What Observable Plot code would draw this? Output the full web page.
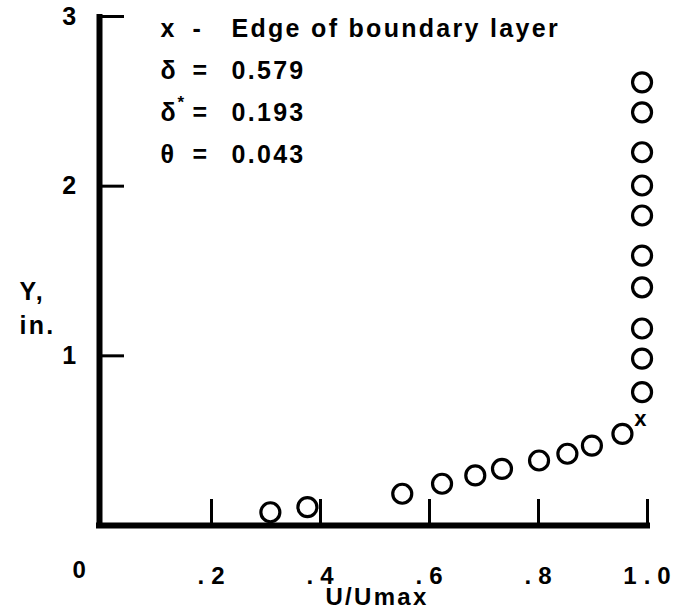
<!DOCTYPE html>
<html><head><meta charset="utf-8">
<script src="https://cdn.jsdelivr.net/npm/d3@7"></script>
<script src="https://cdn.jsdelivr.net/npm/@observablehq/plot@0.6"></script>
<style>
html,body{margin:0;padding:0;background:#fff;}
#chart svg{font-family:"Liberation Sans",Arial,Helvetica,sans-serif;font-weight:bold;background:#fff;}
#chart svg text{letter-spacing:2.3px;}
#chart svg g[aria-label="x-axis tick label"] text{letter-spacing:7px;}
</style></head><body><div id="chart"></div>
<script>
// Velocity profile U/Umax vs Y (in.)
const profileU = [0.308, 0.376, 0.550, 0.623, 0.684, 0.733, 0.801, 0.853, 0.898, 0.954,
                  0.990, 0.990, 0.990, 0.990, 0.990, 0.990, 0.990, 0.990, 0.990, 0.990];
const profileY = [0.078, 0.108, 0.187, 0.246, 0.295, 0.334, 0.383, 0.423, 0.471, 0.540,
                  0.786, 0.984, 1.161, 1.404, 1.591, 1.827, 2.004, 2.200, 2.435, 2.612];
// Edge of boundary layer marker
const edgeU = [0.987];
const edgeY = [0.629];
// Axis ticks
const xTicks = [0.2, 0.4, 0.6, 0.8, 1.0];
const xTickLabels = [".2", ".4", ".6", ".8", "1.0"];
const yTicks = [1, 2, 3];
const yTickLabels = ["1", "2", "3"];
// Legend block
const legendSymbols = ["x", "δ", "δ", "θ"];
const legendOps = ["-", "=", "=", "="];
const legendValues = ["Edge of boundary layer", "0.579", "0.193", "0.043"];

const points = profileU.map((u, i) => ({u, y: profileY[i]}));
const edge = edgeU.map((u, i) => ({u, y: edgeY[i]}));

const W = 683, H = 612, mL = 102, mR = 36, mT = 16, mB = 87;
const fw = W - mL - mR, fh = H - mT - mB;
const FS = 25;

const chart = Plot.plot({
  width: W, height: H,
  marginLeft: mL, marginRight: mR, marginTop: mT, marginBottom: mB,
  x: {domain: [0, 1]},
  y: {domain: [0, 3]},
  style: {fontSize: FS + "px", color: "#000"},
  marks: [
    // axis lines
    Plot.ruleY([0], {stroke: "#000", strokeWidth: 6, insetLeft: -6, insetRight: -3}),
    Plot.ruleX([0], {stroke: "#000", strokeWidth: 6, dx: -3, insetTop: -2, insetBottom: -3}),
    // inward ticks
    Plot.tickX(xTicks, {x: d => d, stroke: "#000", strokeWidth: 3, insetTop: fh - 26}),
    Plot.tickY(yTicks, {y: d => d, stroke: "#000", strokeWidth: 3, insetRight: fw - 22}),
    // tick labels
    Plot.axisX({ticks: xTicks, tickFormat: (d) => xTickLabels[xTicks.indexOf(d)], tickSize: 0, tickPadding: 41, fontSize: 24, dx: 3, label: null}),
    Plot.axisY({ticks: yTicks, tickFormat: (d) => yTickLabels[yTicks.indexOf(d)], tickSize: 0, tickPadding: 24, fontSize: FS, label: null}),
    Plot.text(["0"], {frameAnchor: "bottom-left", dx: -30, dy: 52, fontSize: 24}),
    // axis titles
    Plot.text(["U/Umax"], {frameAnchor: "bottom", dy: 79, dx: 2, fontSize: 24}),
    Plot.text(["Y,\nin."], {frameAnchor: "left", dx: -83, dy: 35, textAnchor: "start", lineHeight: 1.35, fontSize: FS}),
    // legend
    Plot.text([legendSymbols.join("\n")], {frameAnchor: "top-left", dx: 58, dy: -9, textAnchor: "start", lineAnchor: "top", lineHeight: 1.68, fontSize: FS}),
    Plot.text([legendOps.join("\n")], {frameAnchor: "top-left", dx: 90, dy: -9, textAnchor: "start", lineAnchor: "top", lineHeight: 1.68, fontSize: FS}),
    Plot.text(["*"], {frameAnchor: "top-left", dx: 75, dy: 79, textAnchor: "start", lineAnchor: "top", fontSize: 17}),
    Plot.text([legendValues.join("\n")], {frameAnchor: "top-left", dx: 129, dy: -9, textAnchor: "start", lineAnchor: "top", lineHeight: 1.68, fontSize: FS}),
    // data
    Plot.dot(points, {x: "u", y: "y", r: 9.5, stroke: "#000", strokeWidth: 3.2, fill: "none"}),
    Plot.text(edge, {x: "u", y: "y", text: () => "x", fontSize: 22, dx: 1})
  ]
});
document.getElementById("chart").appendChild(chart);
</script></body></html>
